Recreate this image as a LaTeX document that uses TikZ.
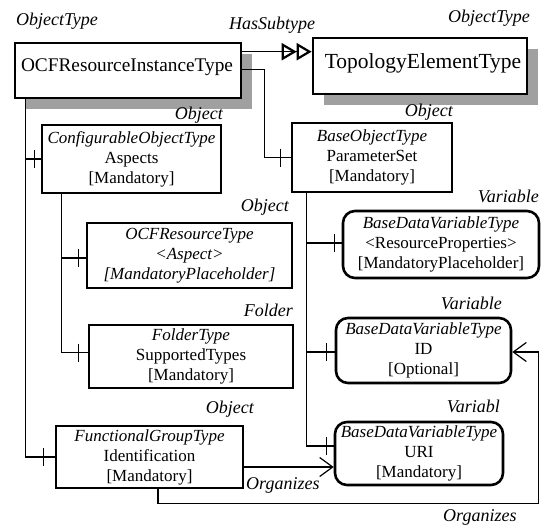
\documentclass[tikz,border=0pt]{standalone}
\usepackage{fontspec}
\setmainfont{Liberation Serif}
\usetikzlibrary{arrows.meta,calc,shadows}
\definecolor{shadowgray}{HTML}{A0A0A0}
\begin{document}
\begin{tikzpicture}[x=1pt,y=-1pt,
  box/.style={draw, line width=2.6pt, fill=white, inner sep=0pt, align=center,
    font=\fontsize{17}{20}\selectfont},
  rbox/.style={box, rounded corners=12pt},
  bigbox/.style={draw, line width=2.6pt, fill=white, inner sep=0pt,
    drop shadow={shadow xshift=11pt, shadow yshift=-11pt, fill=shadowgray, opacity=1}},
  bigtext/.style={inner sep=0pt, font=\fontsize{19.3}{22}\selectfont},
  lbl/.style={inner sep=0pt, font=\fontsize{18}{20}\selectfont\itshape},
  conn/.style={line width=1.2pt},
  tickmark/.style={line width=1.2pt},
  organ/.style={conn, -{Straight Barb[length=13pt,width=19pt,line width=1.2pt]}},
  subtype/.style={conn, -{Triangle[open,length=15pt,width=17pt,line width=2.2pt,sep=0pt] Triangle[open,length=15pt,width=17pt,line width=2.2pt,sep=0pt]}}
]
\useasboundingbox (0,0) rectangle (543,527);

% top boxes
\node[bigbox, minimum width=226pt, minimum height=55pt] (ocf) at (128,70.5) {};
\node[bigtext] (ocftxt) at (127,67) {OCFResourceInstanceType};
\node[bigbox, minimum width=214pt, minimum height=56pt] (topo) at (420,66) {};
\node[bigtext, font=\fontsize{21.5}{22}\selectfont] (topotxt) at (423,63) {TopologyElementType};

% inner boxes
\node[box, minimum width=179pt, minimum height=68pt] (aspects) at (131.5,159)
  {\textit{ConfigurableObjectType}\\Aspects\\{[Mandatory]}};
\node[box, minimum width=205pt, minimum height=65pt] (ocfrt) at (189.5,255.5)
  {\textit{OCFResourceType}\\\textit{<Aspect>}\\\textit{[MandatoryPlaceholder]}};
\node[box, minimum width=204pt, minimum height=63pt] (folder) at (191,356.5)
  {\textit{FolderType}\\SupportedTypes\\{[Mandatory]}};
\node[box, minimum width=187pt, minimum height=62pt] (ident) at (149.5,457)
  {\textit{FunctionalGroupType}\\Identification\\{[Mandatory]}};
\node[box, minimum width=160pt, minimum height=69pt] (param) at (372,157.5)
  {\textit{BaseObjectType}\\ParameterSet\\{[Mandatory]}};
\node[rbox, minimum width=196pt, minimum height=67pt] (resprop) at (441,244.5)
  {\textit{BaseDataVariableType}\\<ResourceProperties>\\{[MandatoryPlaceholder]}};
\node[rbox, minimum width=175pt, minimum height=65pt] (id) at (423.5,350.5)
  {\textit{BaseDataVariableType}\\ID\\{[Optional]}};
\node[rbox, minimum width=168pt, minimum height=63pt] (uri) at (419,453.5)
  {\textit{BaseDataVariableType}\\URI\\{[Mandatory]}};

% labels
\node[lbl, anchor=west] (lobjtype1) at (16,21) {ObjectType};
\node[lbl] (lhas) at (272,25) {HasSubtype};
\node[lbl, anchor=east] (lobjtype2) at (530,18) {ObjectType};
\node[lbl, anchor=east] (lobj1) at (223,115) {Object};
\node[lbl, anchor=east] (lobj2) at (453,112) {Object};
\node[lbl, anchor=east] (lobj3) at (289,207) {Object};
\node[lbl, anchor=east] (lvar1) at (539,196) {Variable};
\node[lbl, anchor=east] (lfold) at (293,310) {Folder};
\node[lbl, anchor=east] (lvar2) at (502,303) {Variable};
\node[lbl, anchor=east] (lobj4) at (254,409) {Object};
\node[lbl, anchor=east] (lvar3) at (500,406) {Variabl};
\node[lbl, anchor=west] (lorg1) at (246,485) {Organizes};
\node[lbl, anchor=west] (lorg2) at (443,517) {Organizes};

% HasSubtype
\draw[subtype] ($(ocf.north east)+(0,10)$) -- ($(topo.north west)+(0,15)$);

% ocf -> param
\draw[conn] ($(ocf.north east)+(0,28)$) -| ($(param.west)+(-26,0)$) -- (param.west);
\draw[tickmark] ($(param.west)+(-10,-9)$) -- ++(0,18);

% ocf -> aspects, ident
\draw[conn] ($(ocf.south west)+(12,0)$) |- (ident.west);
\draw[conn] ($(ocf.south west)+(12,0)$) |- (aspects.west);
\draw[tickmark] ($(aspects.west)+(-6,-9)$) -- ++(0,18);
\draw[tickmark] ($(ident.west)+(-11,-9)$) -- ++(0,18);

% aspects -> ocfrt, folder
\draw[conn] ($(aspects.south west)+(21,0)$) |- ($(folder.west)+(0,-4)$);
\draw[conn] ($(aspects.south west)+(21,0)$) |- ($(ocfrt.west)+(0,2.5)$);
\draw[tickmark] ($(ocfrt.west)+(-7,-6.5)$) -- ++(0,18);
\draw[tickmark] ($(folder.west)+(-9,-13)$) -- ++(0,18);

% param -> resprop, id, uri
\draw[conn] ($(param.south west)+(16,0)$) |- ($(uri.west)+(0,-7.5)$);
\draw[conn] ($(param.south west)+(16,0)$) |- ($(resprop.west)+(0,-1.5)$);
\draw[conn] ($(param.south west)+(16,0)$) |- ($(id.west)+(0,1.5)$);
\draw[tickmark] ($(resprop.west)+(-7,-10.5)$) -- ++(0,18);
\draw[tickmark] ($(id.west)+(-8,-7.5)$) -- ++(0,18);
\draw[tickmark] ($(uri.west)+(-7,-16.5)$) -- ++(0,18);

% Organizes
\draw[organ] ($(ident.east)+(0,10)$) -- ($(uri.west)+(0,13.5)$);
\draw[organ] ($(ident.south)+(8.5,0)$) -- ++(0,14) -| ($(id.east)+(26,1.5)$) -- ($(id.east)+(0,1.5)$);
\end{tikzpicture}
\end{document}
